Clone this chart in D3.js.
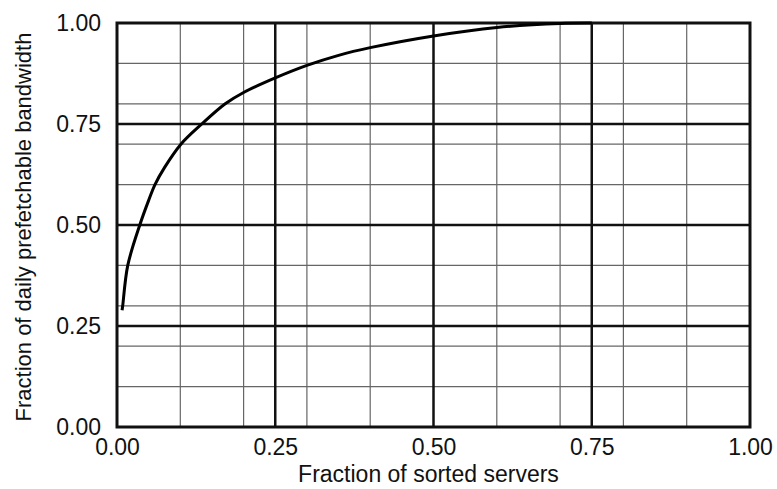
<!DOCTYPE html>
<html>
<head>
<meta charset="utf-8">
<script src="https://cdn.jsdelivr.net/npm/d3@7"></script>
<style>
  body { margin: 0; background: #fff; }
  svg text { font-family: "Liberation Sans", Arial, sans-serif; fill: #111; }
</style>
</head>
<body>
<svg></svg>
<script>
// curve
const serverFrac = [0.008, 0.009, 0.017, 0.036, 0.05, 0.06, 0.075, 0.101, 0.134, 0.171, 0.2, 0.25, 0.3, 0.35, 0.4, 0.5, 0.6, 0.7, 0.75];
const bandwidthFrac = [0.289, 0.3, 0.4, 0.5, 0.561, 0.6, 0.642, 0.7, 0.75, 0.8, 0.828, 0.864, 0.895, 0.92, 0.939, 0.968, 0.989, 0.999, 1.0];

const majorTicks = [0, 0.25, 0.5, 0.75, 1];
const minorTicks = [0.1, 0.2, 0.3, 0.4, 0.6, 0.7, 0.8, 0.9];

const xTitle = "Fraction of sorted servers";
const yTitle = "Fraction of daily prefetchable bandwidth";

const width = 777, height = 489;
const margin = { top: 23, right: 27, bottom: 62, left: 117 };

const svg = d3.select("svg").attr("width", width).attr("height", height);

const x = d3.scaleLinear().domain([0, 1]).range([margin.left, width - margin.right]);
const y = d3.scaleLinear().domain([0, 1]).range([height - margin.bottom, margin.top]);

const grid = svg.append("g");

// thin grid
grid.selectAll("line.vminor").data(minorTicks).enter().append("line")
  .attr("x1", d => x(d)).attr("x2", d => x(d))
  .attr("y1", y(0)).attr("y2", y(1))
  .attr("stroke", "#666").attr("stroke-width", 1.2);
grid.selectAll("line.hminor").data(minorTicks).enter().append("line")
  .attr("y1", d => y(d)).attr("y2", d => y(d))
  .attr("x1", x(0)).attr("x2", x(1))
  .attr("stroke", "#666").attr("stroke-width", 1.2);

// heavy grid at the labelled ticks
grid.selectAll("line.vmajor").data(majorTicks.slice(1, -1)).enter().append("line")
  .attr("x1", d => x(d)).attr("x2", d => x(d))
  .attr("y1", y(0)).attr("y2", y(1))
  .attr("stroke", "#111").attr("stroke-width", 2.5);
grid.selectAll("line.hmajor").data(majorTicks.slice(1, -1)).enter().append("line")
  .attr("y1", d => y(d)).attr("y2", d => y(d))
  .attr("x1", x(0)).attr("x2", x(1))
  .attr("stroke", "#111").attr("stroke-width", 2.5);

svg.append("rect")
  .attr("x", x(0)).attr("y", y(1))
  .attr("width", x(1) - x(0)).attr("height", y(0) - y(1))
  .attr("fill", "none").attr("stroke", "#111").attr("stroke-width", 3);

const pts = serverFrac.map((d, i) => [d, bandwidthFrac[i]]);
const line = d3.line().x(d => x(d[0])).y(d => y(d[1])).curve(d3.curveCatmullRom.alpha(0.5));

svg.append("path")
  .datum(pts)
  .attr("d", line)
  .attr("fill", "none")
  .attr("stroke", "#000")
  .attr("stroke-width", 3);

// axes (labels only, lines are the grid)
const xAxis = d3.axisBottom(x).tickValues(majorTicks).tickFormat(d3.format(".2f")).tickSize(0).tickPadding(12);
const yAxis = d3.axisLeft(y).tickValues(majorTicks).tickFormat(d3.format(".2f")).tickSize(0).tickPadding(16);

svg.append("g").attr("transform", `translate(0,${y(0)})`).call(xAxis)
  .call(g => g.select(".domain").remove())
  .selectAll("text").style("font-size", "23px").attr("fill", "#111");
svg.append("g").attr("transform", `translate(${x(0)},0)`).call(yAxis)
  .call(g => g.select(".domain").remove())
  .selectAll("text").style("font-size", "23px").attr("fill", "#111");

svg.append("text")
  .attr("x", (x(0) + x(1)) / 2 - 5).attr("y", 482)
  .attr("text-anchor", "middle")
  .style("font-size", "23px")
  .text(xTitle);

svg.append("text")
  .attr("transform", `translate(31,${(y(0) + y(1)) / 2 + 2}) rotate(-90)`)
  .attr("text-anchor", "middle")
  .style("font-size", "22px")
  .text(yTitle);
</script>
</body>
</html>
